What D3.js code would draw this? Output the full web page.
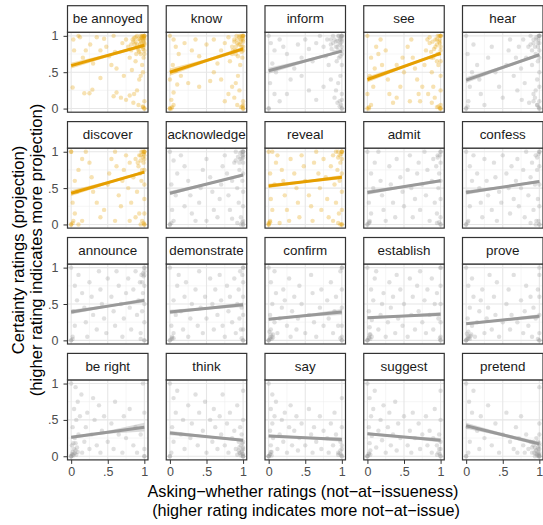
<!DOCTYPE html>
<html><head><meta charset="utf-8">
<script src="https://cdn.jsdelivr.net/npm/d3@7"></script>
<style>body{margin:0;background:#fff}svg{display:block}</style>
</head><body>
<script>
const predicates = ["be annoyed","know","inform","see","hear","discover","acknowledge","reveal","admit","confess","announce","demonstrate","confirm","establish","prove","be right","think","say","suggest","pretend"];
const factives = ["be annoyed","know","see","discover","reveal"];
const fitStart = [0.59,0.50,0.52,0.40,0.39,0.43,0.43,0.53,0.44,0.44,0.39,0.39,0.29,0.31,0.23,0.26,0.32,0.28,0.31,0.42];
const fitEnd   = [0.87,0.82,0.79,0.76,0.74,0.72,0.68,0.65,0.60,0.59,0.55,0.49,0.39,0.36,0.33,0.40,0.22,0.23,0.22,0.17];
const ciStart  = [0.04,0.05,0.04,0.04,0.04,0.04,0.03,0.03,0.03,0.03,0.03,0.03,0.02,0.02,0.02,0.02,0.03,0.02,0.02,0.04];
const ciMid    = [0.02,0.02,0.02,0.02,0.02,0.02,0.015,0.015,0.015,0.015,0.015,0.015,0.015,0.015,0.015,0.02,0.015,0.015,0.015,0.02];
const ciEnd    = [0.02,0.03,0.02,0.02,0.02,0.02,0.02,0.03,0.02,0.02,0.03,0.03,0.04,0.03,0.03,0.06,0.02,0.03,0.03,0.03];
const pointData = [
"3,95 4,80 2,29 18,21 25,21 29,26 16,70 20,80 26,88 35,98 45,96 58,100 40,80 48,85 52,72 60,78 55,60 62,55 70,90 75,95 78,85 80,70 83,53 85,92 88,98 90,88 92,80 94,95 95,100 96,90 97,97 98,100 99,85 100,100 100,95 100,90 100,80 99,70 97,60 95,45 93,40 90,25 86,20 80,18 75,12 68,15 62,22 58,17 85,8 92,5 98,3 100,0 100,10 98,50 95,75 88,65 82,88 72,45 40,42 30,62 10,100 12,98",
"0,100 5,95 8,85 12,75 4,60 8,52 0,40 10,33 5,22 2,12 5,5 0,0 3,2 15,45 25,35 40,30 55,38 60,50 65,62 40,72 30,80 20,90 35,95 50,88 60,95 70,80 75,90 80,98 85,85 88,95 90,75 92,90 95,100 97,95 98,85 100,100 100,92 100,80 99,70 96,60 93,45 90,35 95,25 88,15 92,5 97,2 100,0 100,10 85,30 80,20 75,10 70,40 82,65",
"0,100 3,90 8,80 15,95 20,85 25,75 5,62 10,50 2,35 8,20 0,0 15,10 25,20 30,40 35,55 45,70 40,88 50,95 55,82 60,65 65,90 70,100 75,85 78,72 80,95 82,60 85,88 88,100 90,78 92,92 94,85 95,100 96,70 97,95 98,90 99,100 100,100 100,95 100,85 100,75 100,60 98,45 95,35 92,25 90,15 94,8 97,3 100,0 100,20 85,40 75,30 65,12 55,25 45,45",
"0,100 2,0 5,5 0,20 8,30 3,45 10,55 5,70 12,85 18,95 25,80 20,60 28,40 30,20 35,8 40,15 45,30 50,50 48,70 55,85 60,95 62,70 65,55 68,40 70,20 72,10 75,30 78,60 80,80 82,95 85,90 87,70 88,50 90,30 92,15 93,85 95,95 96,75 97,60 98,100 99,90 100,100 100,80 100,65 100,45 100,25 100,5 100,0 95,2 88,8 83,20 58,10 40,60 15,75",
"0,100 0,0 3,10 5,30 8,50 2,75 10,88 15,60 18,40 20,20 25,5 30,70 35,85 40,50 45,30 50,15 55,60 58,80 60,95 65,45 68,70 70,25 72,85 75,55 78,95 80,35 82,70 85,85 88,100 90,60 92,90 94,15 95,75 96,95 97,40 98,85 99,100 100,100 100,90 100,70 100,50 100,30 100,10 100,0 97,5 92,20 86,8 76,12",
"0,100 0,0 3,5 5,15 2,30 8,45 5,60 10,75 15,90 20,100 25,85 28,65 30,45 35,30 40,10 45,20 50,55 52,70 55,90 60,100 62,80 65,40 68,25 70,60 72,75 75,95 78,50 80,85 82,30 85,65 88,90 90,45 92,80 93,15 95,95 96,60 97,5 98,100 99,85 100,100 100,95 100,75 100,55 100,35 100,15 100,0 95,0 88,10 80,5 60,5 15,5 10,0",
"0,100 0,0 5,5 3,20 8,40 2,55 10,70 5,88 15,95 20,80 25,60 28,40 30,15 35,5 40,30 42,50 45,75 50,90 55,65 58,45 60,20 65,10 68,35 70,55 72,80 75,95 78,70 80,40 82,20 85,60 88,85 90,100 92,50 94,30 95,75 96,90 97,10 98,100 99,60 100,100 100,95 100,85 100,70 100,45 100,25 100,5 100,0 92,2 85,8 50,5 20,25",
"0,100 0,0 2,5 5,20 3,35 8,55 2,70 10,85 12,95 18,75 20,60 22,40 25,20 28,5 30,90 35,70 38,50 40,30 42,10 45,95 48,80 50,60 55,40 58,25 60,5 62,85 65,100 68,70 70,50 72,20 75,90 78,65 80,35 82,10 85,80 88,95 90,55 92,30 94,75 95,100 96,15 97,60 98,85 100,100 100,90 100,70 100,45 100,20 100,0 95,2 88,5 15,2",
"0,100 0,0 3,3 5,15 2,30 8,50 5,70 10,85 15,100 18,60 20,40 22,20 25,5 30,80 32,55 35,30 38,10 40,90 45,65 48,45 50,25 55,75 58,95 60,50 62,10 65,35 68,70 70,85 72,20 75,55 78,100 80,40 82,75 85,5 88,60 90,90 92,30 94,80 95,15 96,95 97,50 98,70 100,100 100,85 100,60 100,35 100,10 100,0 95,2",
"0,100 0,0 3,5 5,25 2,45 8,60 5,80 10,95 15,70 18,50 20,30 22,10 25,90 28,60 30,40 35,20 38,85 40,65 42,5 45,45 48,30 50,95 55,70 58,50 60,15 62,80 65,35 68,60 70,90 72,25 75,50 78,75 80,10 82,100 85,40 88,65 90,85 92,20 94,55 95,95 96,5 97,75 98,35 100,100 100,80 100,55 100,25 100,0 95,0 88,2",
"0,100 0,0 2,5 5,20 3,40 8,55 5,75 10,90 15,65 18,45 20,25 22,5 25,80 28,60 30,35 35,15 38,95 40,70 42,50 45,30 48,10 50,85 55,60 58,40 60,20 62,95 65,75 68,50 70,5 72,30 75,65 78,85 80,45 82,15 85,70 88,95 90,35 92,55 94,80 95,10 96,90 97,40 98,65 100,100 100,90 100,75 100,50 100,25 100,0 95,2",
"0,100 0,0 3,3 5,10 2,20 8,35 5,55 10,75 12,90 15,40 18,15 20,60 22,80 25,5 28,30 30,50 35,70 38,20 40,95 42,45 45,10 48,60 50,30 55,85 58,50 60,15 62,70 65,35 68,90 70,55 72,20 75,5 78,75 80,40 82,60 85,25 88,85 90,10 92,50 94,70 95,30 96,95 97,15 98,45 100,100 100,80 100,60 100,35 100,15 100,0",
"0,100 0,0 2,2 4,5 6,8 3,15 8,25 2,35 5,50 10,65 3,80 8,95 12,10 15,30 18,45 20,70 22,55 25,20 28,85 30,5 32,40 35,60 38,15 40,30 42,75 45,50 50,10 55,35 58,90 60,65 62,25 65,5 70,45 72,70 75,20 80,55 82,30 85,80 88,10 90,40 92,60 95,20 98,95 100,100 100,70 100,45 100,20 100,5 100,0",
"0,100 0,0 2,3 4,8 3,18 6,28 2,40 8,55 5,70 10,85 12,95 15,15 18,35 20,50 22,65 25,5 28,25 30,80 32,45 35,60 38,10 40,90 42,30 45,70 48,20 50,50 55,5 58,85 60,35 62,60 65,15 68,75 70,40 72,95 75,25 78,55 80,10 82,70 85,35 88,85 90,15 92,50 95,65 97,30 100,100 100,75 100,50 100,25 100,5 100,0",
"0,100 0,0 2,2 4,4 6,6 3,12 8,20 2,30 5,45 10,60 3,75 8,85 12,5 15,25 18,40 20,55 22,70 25,10 28,30 30,45 32,90 35,15 38,60 40,35 42,80 45,5 50,25 55,50 58,70 60,15 62,35 65,90 70,25 75,55 78,10 80,40 82,75 85,20 88,60 90,5 92,45 95,30 98,70 100,90 100,60 100,35 100,10 100,0",
"0,100 0,0 2,2 4,4 6,8 8,12 3,18 5,25 10,30 2,40 7,50 12,55 4,65 9,75 14,85 6,95 15,5 18,20 20,40 22,60 25,10 28,30 30,80 32,50 35,15 38,70 40,5 42,35 45,55 50,20 55,45 58,10 60,75 65,30 70,5 72,55 75,25 80,65 85,15 88,40 90,5 95,30 98,100 100,60 100,10 100,0",
"0,100 0,0 2,5 5,20 3,40 8,60 5,80 10,90 15,30 18,50 20,10 25,70 28,25 30,45 35,85 38,15 40,60 45,35 48,75 50,5 55,50 58,20 60,65 62,40 65,10 68,55 70,30 72,85 75,15 78,45 80,5 82,60 85,25 88,35 90,10 92,70 94,20 95,5 96,40 97,15 98,30 99,8 100,0 100,3 100,10 100,20 100,50 100,90",
"0,100 0,0 2,2 4,6 3,15 6,25 2,35 5,45 8,55 3,65 10,75 5,85 12,10 15,30 18,50 20,20 22,60 25,5 28,40 30,70 32,15 35,35 38,55 40,8 42,25 45,45 50,15 55,65 58,30 60,5 62,40 65,20 70,55 72,10 75,35 80,25 82,5 85,45 88,15 90,60 92,30 95,5 98,20 100,80 100,40 100,10 100,0",
"0,100 0,0 2,3 4,8 3,18 6,28 2,40 5,55 8,65 3,80 10,90 12,12 15,35 18,50 20,22 22,70 25,5 28,40 30,60 32,15 35,30 38,75 40,8 42,45 45,25 50,55 55,15 58,35 60,5 62,60 65,25 70,45 72,10 75,30 80,55 82,15 85,35 88,5 90,25 92,65 95,15 98,30 100,90 100,50 100,10 100,0",
"0,100 0,0 3,5 5,20 2,40 8,60 4,75 10,90 15,35 18,10 20,55 25,25 30,70 35,15 40,45 45,5 50,30 55,60 60,20 65,10 68,40 70,5 72,25 75,55 78,15 80,5 82,30 85,10 88,20 90,5 92,15 94,0 95,8 96,25 97,3 98,12 99,0 100,0 100,2 100,5 100,10 100,18 100,30 100,45 100,95"
];
const denseData = [
"100,100 100,100 99,98 98,95 100,97 97,100 96,98 95,93 99,92 94,88 92,96 90,100 88,92 86,97 100,88 98,82 96,85 93,78 91,83 89,75 87,88 100,75 84,95 82,80 100,0 98,2",
"100,100 100,100 99,97 98,100 97,92 100,95 95,98 94,88 92,95 90,85 88,92 86,80 100,85 98,78 96,88 93,72 91,100 89,80 100,0 99,3 0,0 2,0 100,5 85,75",
"100,100 100,100 99,98 98,95 100,92 97,88 96,100 94,93 92,85 90,95 88,90 86,82 100,80 98,72 95,80 93,65 100,0 99,5 97,10 0,0 100,12 85,95",
"100,100 100,100 99,95 98,92 96,100 95,88 93,95 91,82 89,92 87,78 85,98 100,85 98,75 100,0 99,0 97,3 0,0 2,2 95,65 90,70",
"100,100 100,100 99,95 98,90 96,98 94,85 92,95 90,80 88,88 100,80 98,65 100,0 99,2 97,5 0,0 2,3 95,25 92,10",
"100,100 100,100 99,97 98,92 96,100 95,88 93,95 91,85 100,90 100,0 99,2 0,0 2,2 0,100 97,75 94,70",
"100,100 100,100 99,95 98,90 96,98 95,85 100,0 99,3 97,0 0,0 2,2 100,92 93,93 90,88",
"100,100 100,100 99,97 97,95 0,0 2,3 0,2 100,0 98,0 5,100 95,92 92,100",
"100,100 99,95 0,0 2,2 3,5 100,0 98,3 96,92",
"100,100 99,97 0,0 2,3 100,0 99,5 97,92",
"100,100 100,95 99,88 0,0 2,2 100,0 98,92 97,80",
"0,0 2,2 3,5 5,3 100,0 98,3 100,100 99,90",
"0,0 0,0 2,4 4,2 3,8 6,4 1,12 100,0 98,3 100,100",
"0,0 0,0 2,4 4,2 3,8 6,5 100,0 99,3 100,100",
"0,0 0,0 2,3 3,6 5,2 1,9 7,8 100,0 98,2 100,100",
"0,0 0,0 1,3 3,1 2,6 5,4 4,10 7,2 1,15 9,6 6,18 100,0",
"100,0 100,0 99,3 97,1 98,6 96,4 94,8 92,2 100,12 99,18 95,12 0,0",
"0,0 0,0 2,3 4,1 3,6 100,0 99,2 97,4 98,8 95,2 100,15",
"0,0 0,0 2,4 4,2 100,0 99,3 97,5 95,2 98,10 100,20",
"100,0 100,0 99,2 98,5 97,1 96,8 95,3 94,12 99,10 100,15 98,20 93,5 92,20 90,12 0,0"
];
const tickValues = [0, 0.5, 1];
const tickLabels = ["0", ".5", "1"];
const minorTicks = [0.25, 0.75];

const W = 543, H = 525;
const left0 = 67.5, colStep = 98.75, pw = 80.5;
const top0 = 5.7, rowStep = 115.9, stripH = 26.5, ph = 80;
const ORANGE = "#E69F00", GREY = "#999999";
const FONT = "'Liberation Sans', Arial, sans-serif";

const svg = d3.select("body").append("svg").attr("width", W).attr("height", H)
  .style("font-family", FONT);

const x = d3.scaleLinear().domain([-0.05, 1.05]).range([0, pw]);
const y = d3.scaleLinear().domain([-0.05, 1.05]).range([ph, 0]);

predicates.forEach((pred, i) => {
  const col = i % 5, row = Math.floor(i / 5);
  const px = left0 + col * colStep;
  const sy = top0 + row * rowStep;
  const py = sy + stripH;
  const color = factives.includes(pred) ? ORANGE : GREY;
  const g = svg.append("g").attr("transform", `translate(${px},${py})`);

  g.selectAll(".minx").data(minorTicks).join("line")
    .attr("x1", d => x(d)).attr("x2", d => x(d)).attr("y1", 0).attr("y2", ph)
    .attr("stroke", "#f0f0f0").attr("stroke-width", 0.6);
  g.selectAll(".miny").data(minorTicks).join("line")
    .attr("y1", d => y(d)).attr("y2", d => y(d)).attr("x1", 0).attr("x2", pw)
    .attr("stroke", "#f0f0f0").attr("stroke-width", 0.6);
  g.selectAll(".majx").data(tickValues).join("line")
    .attr("x1", d => x(d)).attr("x2", d => x(d)).attr("y1", 0).attr("y2", ph)
    .attr("stroke", "#e6e6e6").attr("stroke-width", 1.1);
  g.selectAll(".majy").data(tickValues).join("line")
    .attr("y1", d => y(d)).attr("y2", d => y(d)).attr("x1", 0).attr("x2", pw)
    .attr("stroke", "#e6e6e6").attr("stroke-width", 1.1);

  const pts = (pointData[i] + " " + denseData[i]).split(" ").map(s => s.split(",").map(v => +v / 100));
  g.selectAll("circle").data(pts).join("circle")
    .attr("cx", d => x(d[0])).attr("cy", d => y(d[1])).attr("r", 2.2)
    .attr("fill", color).attr("fill-opacity", 0.3);

  const a = fitStart[i], b = fitEnd[i], m = (a + b) / 2;
  const rib = [
    [0, a - ciStart[i], a + ciStart[i]],
    [0.5, m - ciMid[i], m + ciMid[i]],
    [1, b - ciEnd[i], b + ciEnd[i]]
  ];
  g.append("path").datum(rib)
    .attr("d", d3.area().x(d => x(d[0])).y0(d => y(d[1])).y1(d => y(d[2])))
    .attr("fill", color).attr("fill-opacity", 0.35);
  g.append("path").datum([[0, a], [1, b]])
    .attr("d", d3.line().x(d => x(d[0])).y(d => y(d[1])))
    .attr("stroke", color).attr("stroke-width", 3).attr("fill", "none");

  g.append("rect").attr("x", 0).attr("y", 0).attr("width", pw).attr("height", ph)
    .attr("fill", "none").attr("stroke", "#333").attr("stroke-width", 1.2);

  svg.append("rect").attr("x", px).attr("y", sy).attr("width", pw).attr("height", stripH)
    .attr("fill", "#fff").attr("stroke", "#333").attr("stroke-width", 1.2);
  svg.append("text").attr("x", px + pw / 2).attr("y", sy + stripH / 2 + 4.2)
    .attr("text-anchor", "middle").attr("font-size", 13.4).attr("fill", "#1a1a1a").text(pred);

  if (col === 0) {
    const ax = g.append("g").call(d3.axisLeft(y).tickValues(tickValues)
      .tickFormat((d, k) => tickLabels[k]).tickSize(4).tickPadding(5));
    ax.select(".domain").remove();
    ax.selectAll("line").attr("stroke", "#333");
    ax.selectAll("text").attr("fill", "#4d4d4d").attr("font-size", 12.5).style("font-family", FONT);
  }
  if (row === 3) {
    const ax = g.append("g").attr("transform", `translate(0,${ph})`)
      .call(d3.axisBottom(x).tickValues(tickValues)
      .tickFormat((d, k) => tickLabels[k]).tickSize(4).tickPadding(3));
    ax.select(".domain").remove();
    ax.selectAll("line").attr("stroke", "#333");
    ax.selectAll("text").attr("fill", "#4d4d4d").attr("font-size", 12.5).style("font-family", FONT);
  }
});

const xt = svg.append("text").attr("text-anchor", "middle").attr("font-size", 16.2).attr("fill", "#000");
xt.append("tspan").attr("x", 303).attr("y", 497).text("Asking\u2212whether ratings (not\u2212at\u2212issueness)");
xt.append("tspan").attr("x", 306).attr("y", 515.5).text("(higher rating indicates more not\u2212at\u2212issue)");

const yt = svg.append("text").attr("text-anchor", "middle").attr("font-size", 16.6).attr("fill", "#000")
  .attr("transform", `translate(0,250) rotate(-90)`);
yt.append("tspan").attr("x", 0).attr("y", 23.5).text("Certainty ratings (projection)");
yt.append("tspan").attr("x", 0).attr("y", 41.5).text("(higher rating indicates more projection)");
</script>
</body></html>
